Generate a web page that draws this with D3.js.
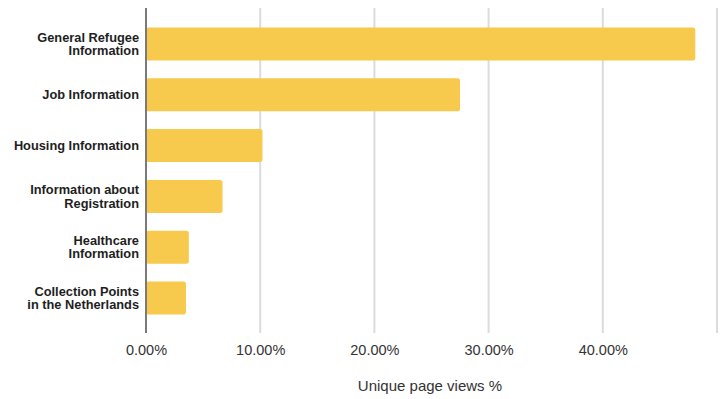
<!DOCTYPE html>
<html>
<head>
<meta charset="utf-8">
<script src="https://cdn.jsdelivr.net/npm/d3@7"></script>
<style>
  html, body { margin: 0; padding: 0; background: #fff; }
  svg { display: block; }
</style>
</head>
<body>
<svg id="chart" width="723" height="399"></svg>
<script>
// Page categories (each label split into its display lines)
const categories = [
  ["General Refugee", "Information"],
  ["Job Information"],
  ["Housing Information"],
  ["Information about", "Registration"],
  ["Healthcare", "Information"],
  ["Collection Points", "in the Netherlands"]
];
// Share of unique page views, in percent
const values = [48.1, 27.5, 10.2, 6.7, 3.75, 3.5];
const tickValues = [0, 10, 20, 30, 40, 50];
const tickLabels = ["0.00%", "10.00%", "20.00%", "30.00%", "40.00%", ""];
const axisTitle = "Unique page views %";

const svg = d3.select("#chart");
const x0 = 146, x1 = 716;
const yTop = 18.6, yBottom = 323.4;
const font = "'Liberation Sans', Arial, Helvetica, sans-serif";

const x = d3.scaleLinear().domain([0, 50]).range([x0, x1 + 1]);
const y = d3.scaleBand()
  .domain(d3.range(categories.length))
  .range([yTop, yBottom])
  .paddingInner(0.35)
  .paddingOuter(0.175);

// vertical gridlines
svg.append("g")
  .selectAll("line")
  .data(tickValues.slice(1))
  .join("line")
  .attr("x1", d => x(d)).attr("x2", d => x(d))
  .attr("y1", 8).attr("y2", 333)
  .attr("stroke", "#dcdcdc")
  .attr("stroke-width", 2);

// bars
svg.append("g")
  .selectAll("rect")
  .data(values)
  .join("rect")
  .attr("x", x(0))
  .attr("y", (d, i) => y(i))
  .attr("width", d => x(d) - x(0))
  .attr("height", y.bandwidth())
  .attr("rx", 2.5)
  .attr("fill", "#f7c94c");

// zero baseline
svg.append("line")
  .attr("x1", x(0)).attr("x2", x(0))
  .attr("y1", 8).attr("y2", 333)
  .attr("stroke", "#7a7a7a")
  .attr("stroke-width", 2);

// category labels
const lineH = 13.5;
const labels = svg.append("g")
  .attr("font-family", font)
  .attr("font-weight", "bold")
  .attr("font-size", 12.8)
  .attr("fill", "#1e1e1e")
  .attr("text-anchor", "end");
categories.forEach((lines, i) => {
  const cy = y(i) + y.bandwidth() / 2;
  const t = labels.append("text")
    .attr("y", cy - (lines.length - 1) * lineH / 2);
  lines.forEach((ln, j) => {
    t.append("tspan")
      .attr("x", 139)
      .attr("dy", j === 0 ? "0.35em" : lineH)
      .text(ln);
  });
});

// x axis tick labels
const xAxis = d3.axisBottom(x)
  .tickValues(tickValues)
  .tickFormat((d, i) => tickLabels[i])
  .tickSize(0)
  .tickPadding(0);
const gx = svg.append("g")
  .attr("transform", "translate(0,345)")
  .call(xAxis);
gx.select(".domain").remove();
gx.selectAll("text")
  .attr("font-family", font)
  .attr("font-size", 14.5)
  .attr("fill", "#333");

// axis title
svg.append("text")
  .attr("x", 430)
  .attr("y", 391)
  .attr("text-anchor", "middle")
  .attr("font-family", font)
  .attr("font-size", 15)
  .attr("fill", "#333")
  .text(axisTitle);
</script>
</body>
</html>
